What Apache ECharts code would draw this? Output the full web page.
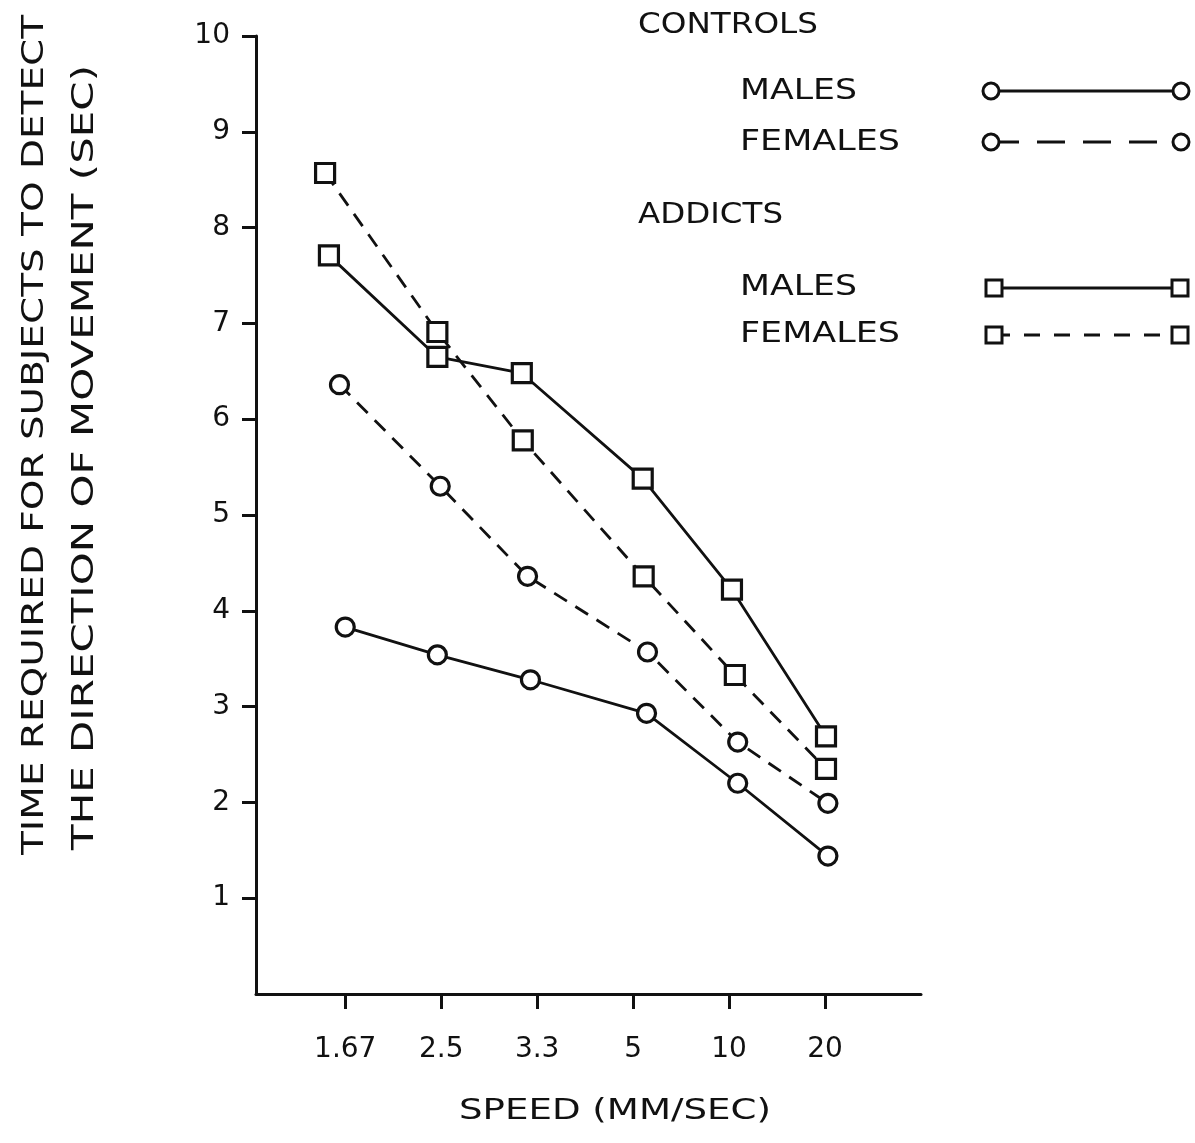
<!DOCTYPE html>
<html>
<head>
<meta charset="utf-8">
<script src="https://cdn.jsdelivr.net/npm/echarts@6/dist/echarts.min.js"></script>
<style>
html,body{margin:0;padding:0;background:#fff;}
#chart{width:1195px;height:1143px;}
</style>
</head>
<body>
<div id="chart"></div>
<script>
// ---- data ----
const speedLabels = ['1.67', '2.5', '3.3', '5', '10', '20'];
const speedTickPos = [1, 2, 3, 4, 5, 6];
const yTickValues = [1, 2, 3, 4, 5, 6, 7, 8, 9, 10];

const controlsMalesX   = [1.00, 1.96, 2.93, 4.14, 5.09, 6.03];
const controlsMalesY   = [3.83, 3.54, 3.28, 2.93, 2.20, 1.44];
const controlsFemalesX = [0.94, 1.99, 2.90, 4.15, 5.09, 6.03];
const controlsFemalesY = [6.36, 5.30, 4.36, 3.57, 2.63, 1.99];
const addictsMalesX    = [0.83, 1.96, 2.84, 4.10, 5.03, 6.01];
const addictsMalesY    = [7.71, 6.65, 6.48, 5.38, 4.22, 2.69];
const addictsFemalesX  = [0.79, 1.96, 2.85, 4.11, 5.06, 6.01];
const addictsFemalesY  = [8.57, 6.91, 5.78, 4.36, 3.33, 2.35];

const groupNames = ['CONTROLS', 'ADDICTS'];
const sexNames = ['MALES', 'FEMALES'];
const yTitleLines = ['TIME REQUIRED FOR SUBJECTS TO DETECT', 'THE DIRECTION OF MOVEMENT (SEC)'];
const xTitle = 'SPEED (MM/SEC)';

// ---- build ----
const FONT = '"DejaVu Sans", "Liberation Sans", sans-serif';
const INK = '#111';
function zip(xs, ys) { return xs.map((x, i) => [x, ys[i]]); }

const measureCtx = document.createElement('canvas').getContext('2d');
function fitScale(text, font, targetWidth) {
  measureCtx.font = font;
  const w = measureCtx.measureText(text).width;
  return w > 0 ? targetWidth / w : 1;
}

function mkSeries(name, xs, ys, symbol, dashed) {
  return {
    name: name, type: 'line', data: zip(xs, ys),
    symbol: symbol, symbolSize: symbol === 'circle' ? 18 : 19,
    showSymbol: true,
    lineStyle: { color: INK, width: 2.8, type: dashed ? [15, 10] : 'solid' },
    itemStyle: { color: '#fff', borderColor: INK, borderWidth: 3.2 },
    emphasis: { disabled: true },
    z: 3
  };
}

const chart = echarts.init(document.getElementById('chart'), null, { renderer: 'canvas' });

function fittedText(text, x, y, sizePx, width, rotated) {
  const font = sizePx + 'px ' + FONT;
  return { type: 'text', x: x, y: y, rotation: rotated ? Math.PI / 2 : 0,
    scaleX: fitScale(text, font, width),
    style: { text: text, font: font, fill: INK, textAlign: 'left', textVerticalAlign: 'middle' } };
}
function legendSample(y, symbol, dashed) {
  const els = [];
  const x1 = symbol === 'circle' ? 991 : 994, x2 = symbol === 'circle' ? 1181 : 1180;
  els.push({ type: 'line', shape: { x1: x1, y1: y, x2: x2, y2: y },
    style: { stroke: INK, lineWidth: 2.8, lineDash: dashed ? (symbol === 'circle' ? [28, 18] : [16, 14]) : null } });
  [x1, x2].forEach(function (cx) {
    if (symbol === 'circle') {
      els.push({ type: 'circle', shape: { cx: cx, cy: y, r: 8 }, style: { fill: '#fff', stroke: INK, lineWidth: 3 } });
    } else {
      els.push({ type: 'rect', shape: { x: cx - 8, y: y - 8, width: 16, height: 16 }, style: { fill: '#fff', stroke: INK, lineWidth: 3 } });
    }
  });
  return els;
}

const graphics = [];
graphics.push(fittedText(groupNames[0], 638, 25, 29, 180));
graphics.push(fittedText(sexNames[0], 740, 91, 29, 117));
graphics.push(fittedText(sexNames[1], 740, 142, 29, 160));
graphics.push(fittedText(groupNames[1], 638, 215, 29, 145));
graphics.push(fittedText(sexNames[0], 740, 287, 29, 117));
graphics.push(fittedText(sexNames[1], 740, 334, 29, 160));
graphics.push.apply(graphics, legendSample(91, 'circle', false));
graphics.push.apply(graphics, legendSample(142, 'circle', true));
graphics.push.apply(graphics, legendSample(288, 'rect', false));
graphics.push.apply(graphics, legendSample(335, 'rect', true));
// y title (rotated, reading bottom to top)
graphics.push(fittedText(yTitleLines[0], 35, 855, 30, 840, true));
graphics.push(fittedText(yTitleLines[1], 85, 850, 30, 785, true));
// x title
graphics.push(fittedText(xTitle, 459, 1112, 28, 312));

chart.setOption({
  animation: false,
  backgroundColor: '#fff',
  grid: { left: 256, top: 36, width: 665, height: 958, containLabel: false },
  xAxis: {
    type: 'value', min: 0.07, max: 7,
    axisLine: { show: true, onZero: false, lineStyle: { color: INK, width: 3 } },
    axisTick: { show: true, length: 15, customValues: speedTickPos, lineStyle: { color: INK, width: 3 } },
    axisLabel: { show: true, customValues: speedTickPos, margin: 42,
      formatter: function (v) { return speedLabels[Math.round(v) - 1] || ''; },
      color: INK, fontSize: 28, fontFamily: FONT },
    splitLine: { show: false }
  },
  yAxis: {
    type: 'value', min: 0, max: 10,
    axisLine: { show: true, lineStyle: { color: INK, width: 3 } },
    axisTick: { show: true, length: 14, customValues: yTickValues, lineStyle: { color: INK, width: 3 } },
    axisLabel: { show: true, customValues: yTickValues, margin: 26, color: INK, fontSize: 28, fontFamily: FONT },
    splitLine: { show: false }
  },
  series: [
    mkSeries('Controls males', controlsMalesX, controlsMalesY, 'circle', false),
    mkSeries('Controls females', controlsFemalesX, controlsFemalesY, 'circle', true),
    mkSeries('Addicts males', addictsMalesX, addictsMalesY, 'rect', false),
    mkSeries('Addicts females', addictsFemalesX, addictsFemalesY, 'rect', true)
  ],
  graphic: { elements: graphics }
});
</script>
</body>
</html>
